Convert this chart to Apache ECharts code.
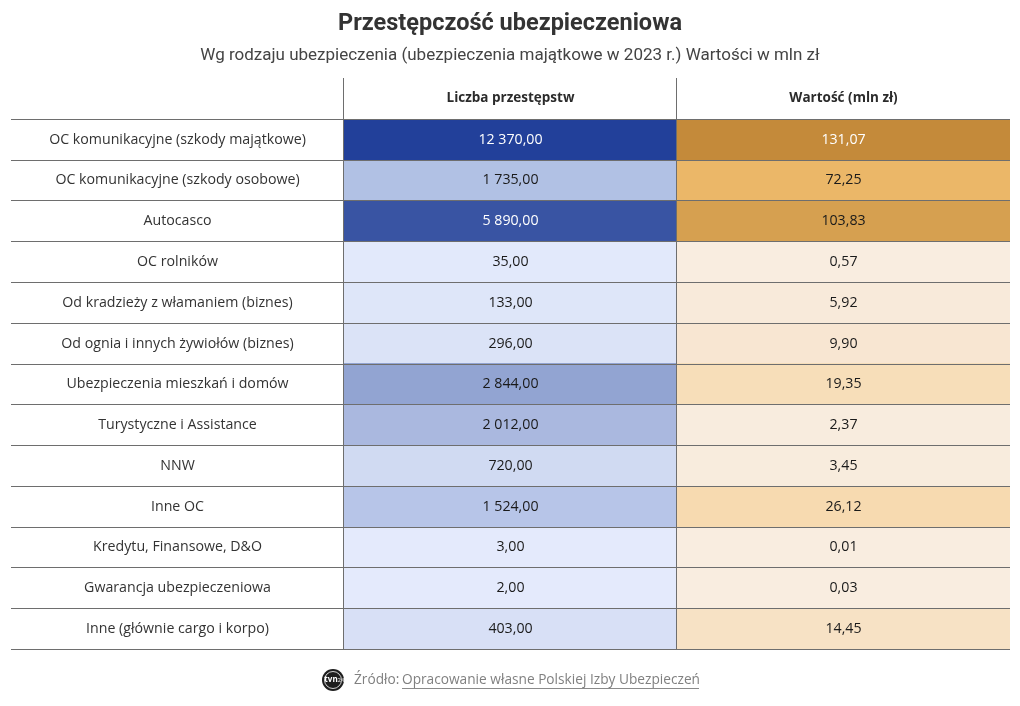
<!DOCTYPE html>
<html>
<head>
<meta charset="utf-8">
<script src="https://cdn.jsdelivr.net/npm/echarts@6/dist/echarts.min.js"></script>
<style>
  html, body { margin: 0; padding: 0; background: #ffffff; }
  #chart { width: 1020px; height: 706px; }
</style>
</head>
<body>
<div id="chart"></div>
<script>
// ---- DATA ----
const columnHeaders = ['', 'Liczba przestępstw', 'Wartość (mln zł)'];
const categories = [
  'OC komunikacyjne (szkody majątkowe)',
  'OC komunikacyjne (szkody osobowe)',
  'Autocasco',
  'OC rolników',
  'Od kradzieży z włamaniem (biznes)',
  'Od ognia i innych żywiołów (biznes)',
  'Ubezpieczenia mieszkań i domów',
  'Turystyczne i Assistance',
  'NNW',
  'Inne OC',
  'Kredytu, Finansowe, D&O',
  'Gwarancja ubezpieczeniowa',
  'Inne (głównie cargo i korpo)'
];
const crimeCounts = [12370, 1735, 5890, 35, 133, 296, 2844, 2012, 720, 1524, 3, 2, 403];
const lossValues = [131.07, 72.25, 103.83, 0.57, 5.92, 9.90, 19.35, 2.37, 3.45, 26.12, 0.01, 0.03, 14.45];
const titleText = 'Przestępczość ubezpieczeniowa';
const subtitleText = 'Wg rodzaju ubezpieczenia (ubezpieczenia majątkowe w 2023 r.) Wartości w mln zł';
const sourceLabel = 'Źródło: ';
const sourceLink = 'Opracowanie własne Polskiej Izby Ubezpieczeń';

// ---- STYLE ----
const FONT = '"Open Sans", "Noto Sans", sans-serif';
const TITLE_FONT = 'Roboto, "Noto Sans", sans-serif';
const LINE_COLOR = '#6e6e6e';
const blueScale = [[0, '#e4eafc'], [40, '#e2e9fb'], [140, '#dee6f9'], [300, '#dbe3f7'], [410, '#d8e0f6'],
  [720, '#d0daf2'], [1530, '#b7c5e8'], [1740, '#b1c1e4'], [2012, '#aab8df'], [2844, '#92a4d2'],
  [5890, '#3954a3'], [12370, '#22409a']];
const orangeScale = [[0, '#f9ede0'], [3.5, '#f8ecdd'], [6, '#f8eada'], [10, '#f8e6d2'], [14.5, '#f7e2c5'],
  [19.4, '#f7deb9'], [26.2, '#f7dab0'], [72.3, '#ebb768'], [103.9, '#d6a050'], [131.1, '#c48a3a']];

function hexToRgb(h) {
  return [parseInt(h.slice(1, 3), 16), parseInt(h.slice(3, 5), 16), parseInt(h.slice(5, 7), 16)];
}
function scaleColor(scale, v) {
  if (v <= scale[0][0]) return scale[0][1];
  for (let i = 1; i < scale.length; i++) {
    if (v <= scale[i][0]) {
      const [a, ca] = scale[i - 1], [b, cb] = scale[i];
      const t = (v - a) / (b - a);
      const A = hexToRgb(ca), B = hexToRgb(cb);
      return 'rgb(' + A.map((x, k) => Math.round(x + (B[k] - x) * t)).join(',') + ')';
    }
  }
  return scale[scale.length - 1][1];
}
function lum(c) {
  let r, g, b;
  if (c[0] === '#') [r, g, b] = hexToRgb(c);
  else [r, g, b] = c.match(/\d+/g).map(Number);
  return 0.299 * r + 0.587 * g + 0.114 * b;
}
function fmt(v) {
  const parts = v.toFixed(2).split('.');
  return parts[0].replace(/\B(?=(\d{3})+(?!\d))/g, ' ') + ',' + parts[1];
}

// cells: [col, row, kind, index]
const rowIds = ['h'].concat(categories.map((_, i) => 'r' + i));
const cells = [];
columnHeaders.forEach((h, c) => cells.push([c, 0, 0, c]));
categories.forEach((name, i) => {
  cells.push([0, i + 1, 1, i]);
  cells.push([1, i + 1, 2, i]);
  cells.push([2, i + 1, 3, i]);
});

function renderItem(params, api) {
  const col = api.value(0), row = api.value(1), kind = api.value(2), idx = api.value(3);
  const center = api.coord([col, row]);
  const size = api.size([1, 1]);
  const w = size[0], h = size[1];
  const x0 = Math.round(center[0] - w / 2), x1 = Math.round(center[0] + w / 2);
  const y0 = Math.round(center[1] - h / 2), y1 = Math.round(center[1] + h / 2);
  const children = [];
  let text = '', fill = null, color = '#2b2b2b', weight = 'normal', size_ = 14.2;
  if (kind === 0) { text = columnHeaders[idx]; weight = 'bold'; size_ = 13.5; color = '#2b2b2b'; }
  else if (kind === 1) { text = categories[idx]; color = '#333333'; }
  else if (kind === 2) { fill = scaleColor(blueScale, crimeCounts[idx]); text = fmt(crimeCounts[idx]); }
  else { fill = scaleColor(orangeScale, lossValues[idx]); text = fmt(lossValues[idx]); }
  if (fill) {
    children.push({ type: 'rect', shape: { x: x0, y: y0, width: x1 - x0, height: y1 - y0 }, style: { fill: fill }, z2: 0 });
    color = lum(fill) < 155 ? '#ffffff' : '#1a1a1a';
  }
  children.push({
    type: 'text', z2: 5,
    style: { text: text, x: (x0 + x1) / 2, y: (y0 + y1) / 2, align: 'center', verticalAlign: 'middle',
      fill: color, fontSize: size_, fontWeight: weight, fontFamily: FONT }
  });
  children.push({ type: 'line', z2: 10, shape: { x1: x0, y1: y1 + 0.5, x2: x1, y2: y1 + 0.5 },
    style: { stroke: LINE_COLOR, lineWidth: 1 } });
  if (col > 0) {
    children.push({ type: 'line', z2: 10, shape: { x1: x0 - 0.5, y1: y0, x2: x0 - 0.5, y2: y1 },
      style: { stroke: LINE_COLOR, lineWidth: 1 } });
  }
  return { type: 'group', children: children };
}

const chart = echarts.init(document.getElementById('chart'), null, { renderer: 'canvas' });
chart.setOption({
  backgroundColor: '#ffffff',
  animation: false,
  title: {
    text: titleText, subtext: subtitleText, left: 'center', top: 7, itemGap: 11,
    textStyle: { fontSize: 23.5, fontWeight: 'bold', color: '#333333', fontFamily: TITLE_FONT },
    subtextStyle: { fontSize: 17, color: '#444444', fontFamily: TITLE_FONT }
  },
  grid: { left: 11, right: 10, top: 78, bottom: 57 },
  xAxis: { type: 'category', data: columnHeaders.map((_, i) => i), show: false },
  yAxis: { type: 'category', data: rowIds, inverse: true, show: false },
  series: [{
    type: 'custom', renderItem: renderItem, data: cells,
    encode: { x: 0, y: 1 }, silent: true
  }],
  graphic: [
    { type: 'circle', shape: { cx: 333, cy: 680, r: 11 }, style: { fill: '#1e1e1e' } },
    { type: 'circle', shape: { cx: 333, cy: 680, r: 8.5 }, style: { fill: 'none', stroke: '#ffffff', lineWidth: 0.8 } },
    { type: 'text', style: { text: 'tvn', x: 331, y: 680, align: 'center', verticalAlign: 'middle',
      fill: '#ffffff', fontSize: 8, fontWeight: 'bold', fontFamily: FONT } },
    { type: 'text', style: { text: '24', x: 341, y: 680, align: 'center', verticalAlign: 'middle',
      fill: '#bbbbbb', fontSize: 6, fontWeight: 'bold', fontFamily: FONT } },
    { type: 'text', style: { text: sourceLabel, x: 354, y: 680, verticalAlign: 'middle',
      fill: '#808080', fontSize: 13.7, fontFamily: FONT } },
    { type: 'text', style: { text: sourceLink, x: 402, y: 680, verticalAlign: 'middle',
      fill: '#808080', fontSize: 13.7, fontFamily: FONT } },
    { type: 'line', shape: { x1: 402, y1: 688.5, x2: 699, y2: 688.5 }, style: { stroke: '#8a8a8a', lineWidth: 1 } }
  ]
});
</script>
</body>
</html>
